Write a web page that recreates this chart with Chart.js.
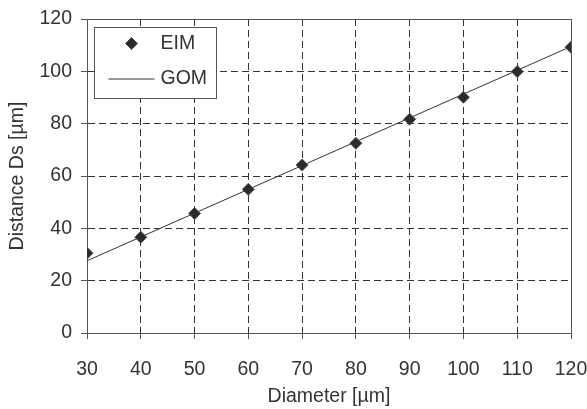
<!DOCTYPE html>
<html>
<head>
<meta charset="utf-8">
<script src="https://cdn.jsdelivr.net/npm/chart.js@4/dist/chart.umd.min.js"></script>
<style>
  html, body { margin: 0; padding: 0; background: #fff; }
  #wrap { width: 587px; height: 409px; }
</style>
</head>
<body>
<div id="wrap"><canvas id="chart" width="587" height="409"></canvas></div>
<script>
// diameter values (x) and the two series
const diameters = [30, 40, 50, 60, 70, 80, 90, 100, 110, 120];
const eimValues = [30.5, 36.6, 45.7, 54.9, 64.2, 72.5, 81.7, 90.1, 99.9, 109.2];
const gomValues = [27.6, 36.7, 45.8, 54.9, 64.0, 73.1, 82.2, 91.3, 100.4, 109.5];
const seriesNames = ['EIM', 'GOM'];

const ink = '#333';
const fontFamily = '"Liberation Sans", Arial, sans-serif';
const fontSize = 19.5;

// draws the frame and a boxed legend inside the plot area, like the original
const boxLegend = {
    id: 'boxLegend',
    afterDraw(chart) {
        const ctx = chart.ctx;
        const area = chart.chartArea;
        ctx.save();

        // plot frame top / right
        ctx.strokeStyle = '#555';
        ctx.lineWidth = 1;
        ctx.beginPath();
        ctx.moveTo(area.left, area.top + 0.5);
        ctx.lineTo(area.right + 0.5, area.top + 0.5);
        ctx.lineTo(area.right + 0.5, area.bottom);
        ctx.stroke();

        // legend box
        const bx = area.left + 7.5, by = area.top + 8.5, bw = 122, bh = 71;
        ctx.fillStyle = '#fff';
        ctx.fillRect(bx, by, bw, bh);
        ctx.strokeStyle = '#555';
        ctx.strokeRect(bx, by, bw, bh);

        const eim = chart.data.datasets[0];
        const gom = chart.data.datasets[1];

        // diamond marker
        const cx = bx + 37, cy = by + 16, r = eim.pointRadius;
        ctx.fillStyle = eim.pointBackgroundColor;
        ctx.strokeStyle = eim.pointBorderColor;
        ctx.lineWidth = eim.pointBorderWidth;
        ctx.beginPath();
        ctx.moveTo(cx, cy - r);
        ctx.lineTo(cx + r, cy);
        ctx.lineTo(cx, cy + r);
        ctx.lineTo(cx - r, cy);
        ctx.closePath();
        ctx.fill();
        ctx.stroke();

        // line sample
        ctx.strokeStyle = gom.borderColor;
        ctx.lineWidth = gom.borderWidth;
        ctx.beginPath();
        ctx.moveTo(bx + 14, by + 51.5);
        ctx.lineTo(bx + 60, by + 51.5);
        ctx.stroke();

        ctx.fillStyle = ink;
        ctx.font = fontSize + 'px ' + fontFamily;
        ctx.textBaseline = 'middle';
        ctx.textAlign = 'left';
        ctx.fillText(eim.label, bx + 66, by + 16);
        ctx.fillText(gom.label, bx + 66, by + 51);
        ctx.restore();
    }
};

const toPoints = ys => diameters.map((x, i) => ({ x: x, y: ys[i] }));

new Chart(document.getElementById('chart'), {
    type: 'line',
    data: {
        datasets: [
            {
                label: seriesNames[0],
                data: toPoints(eimValues),
                showLine: false,
                pointStyle: 'rectRot',
                pointRadius: 6,
                pointBorderWidth: 1,
                pointBackgroundColor: '#2b2b2b',
                pointBorderColor: '#5a5050',
                order: 0
            },
            {
                label: seriesNames[1],
                data: toPoints(gomValues),
                borderColor: ink,
                borderWidth: 1,
                pointRadius: 0,
                tension: 0,
                order: 1
            }
        ]
    },
    options: {
        responsive: false,
        animation: false,
        layout: { padding: { top: 19, right: 16, left: 0, bottom: 0 } },
        plugins: {
            legend: { display: false },
            tooltip: { enabled: false }
        },
        scales: {
            x: {
                type: 'linear',
                min: 30,
                max: 120,
                afterFit(scale) {
                    scale.height = 76;
                    scale.paddingLeft = 0;
                    scale.paddingRight = 0;
                },
                ticks: {
                    stepSize: 10,
                    color: ink,
                    padding: 19,
                    maxRotation: 0,
                    font: { family: fontFamily, size: fontSize }
                },
                grid: { color: ink, tickLength: 6, tickColor: '#555' },
                border: { color: '#555', width: 1, dash: [7, 4] },
                title: {
                    display: true,
                    text: 'Diameter [µm]',
                    color: ink,
                    padding: { top: 0, bottom: 1 },
                    font: { family: fontFamily, size: fontSize }
                }
            },
            y: {
                min: 0,
                max: 120,
                afterFit(scale) {
                    scale.width = 87;
                    scale.paddingTop = 0;
                    scale.paddingBottom = 0;
                },
                ticks: {
                    stepSize: 20,
                    color: ink,
                    padding: 9,
                    font: { family: fontFamily, size: fontSize }
                },
                grid: { color: ink, tickLength: 6, tickColor: '#555' },
                border: { color: '#555', width: 1, dash: [7, 4] },
                title: {
                    display: true,
                    text: 'Distance Ds [µm]',
                    color: ink,
                    padding: { top: 6, bottom: 0 },
                    font: { family: fontFamily, size: fontSize }
                }
            }
        }
    },
    plugins: [boxLegend]
});
</script>
</body>
</html>
